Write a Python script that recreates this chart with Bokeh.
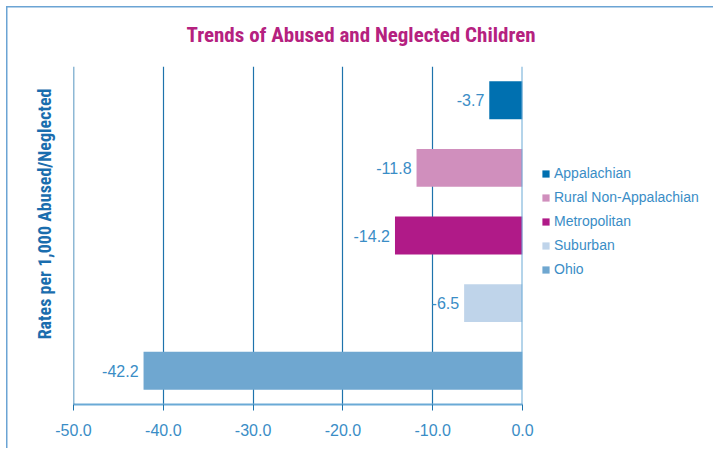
from bokeh.plotting import figure
from bokeh.models import (ColumnDataSource, FactorRange, Range1d, FixedTicker,
                          Legend, LegendItem, Title, Span)
from bokeh.core.properties import value
from bokeh.embed import file_html
from bokeh.resources import INLINE

categories = ["Appalachian", "Rural Non-Appalachian", "Metropolitan", "Suburban", "Ohio"]
values = [-3.7, -11.8, -14.2, -6.5, -42.2]
value_labels = ["-3.7", "-11.8", "-14.2", "-6.5", "-42.2"]
colors = ["#0070B0", "#D08FBD", "#B01A88", "#BFD4EA", "#6FA7D0"]
x_ticks = [-50, -40, -30, -20, -10, 0]
x_tick_labels = ["-50.0", "-40.0", "-30.0", "-20.0", "-10.0", "0.0"]

title_text = "Trends of Abused and Neglected Children"
y_title = "Rates per 1,000 Abused/Neglected"

COND = "Roboto Condensed"
REG = "Liberation Sans"
LBL = "#3A8DC6"
FRAME = "#6BA4D4"

src = ColumnDataSource(dict(cat=categories, val=values, lab=value_labels, color=colors))

p = figure(frame_width=449, frame_height=338,
           x_range=Range1d(-50, 0),
           y_range=FactorRange(factors=list(reversed(categories)), range_padding=0),
           output_backend="svg", toolbar_location=None,
           min_border_left=73, min_border_right=181, min_border_top=66, min_border_bottom=44)
p.outline_line_color = None
p.border_fill_color = None
p.background_fill_color = "white"
p.styles = {"background": (f"linear-gradient({FRAME},{FRAME}) 6px 6px / 1.5px 100% no-repeat, "
                           f"linear-gradient({FRAME},{FRAME}) 6px 6px / 100% 1.5px no-repeat, #ffffff")}

p.title.text = title_text
p.title.align = "left"
p.title.offset = 113
p.title.text_font = COND
p.title.text_font_size = "21px"
p.title.text_font_style = "bold"
p.title.text_color = "#B5217F"
p.title.standoff = 39

ylab = Title(text=y_title, align="right", offset=22, text_font=COND,
             text_font_size="18px", text_font_style="bold", text_color="#1A6DAE",
             standoff=37)
p.add_layout(ylab, "left")

p.yaxis.visible = False
p.ygrid.grid_line_color = None
p.xgrid.grid_line_color = "#1E73AC"
p.xgrid.grid_line_width = 1.2

xa = p.xaxis[0]
xa.ticker = FixedTicker(ticks=x_ticks)
xa.major_label_overrides = {t: l for t, l in zip(x_ticks, x_tick_labels)}
xa.axis_line_color = "#6AAAD6"
xa.axis_line_width = 2
xa.major_tick_line_color = "#1E73AC"
xa.major_tick_in = 0
xa.major_tick_out = 6
xa.minor_tick_line_color = None
xa.major_label_standoff = 13
xa.major_label_text_font = REG
xa.major_label_text_font_size = "16px"
xa.major_label_text_color = LBL

r = p.hbar(y="cat", right="val", left=0, height=0.56, fill_color="color",
           line_color=None, source=src)

p.add_layout(Span(location=-50, dimension="height", line_color="#1E73AC", line_width=1.5))
p.add_layout(Span(location=0, dimension="height", line_color="#6AAAD6", line_width=2))

p.text(x="val", y="cat", text="lab", source=src, x_offset=-5,
       text_align="right", text_baseline="middle",
       text_font=value(REG), text_font_size="16px", text_color=LBL)

items = [LegendItem(label=c, renderers=[r], index=i) for i, c in enumerate(categories)]
legend = Legend(items=items, location=(19, 125), orientation="vertical",
                border_line_color=None, background_fill_alpha=0,
                padding=0, margin=0, spacing=4, glyph_width=9, glyph_height=9,
                label_height=20, label_standoff=4,
                label_text_font=REG, label_text_font_size="14px", label_text_color=LBL)
p.add_layout(legend, "right")

open("out.html", "w").write(file_html(p, INLINE))
